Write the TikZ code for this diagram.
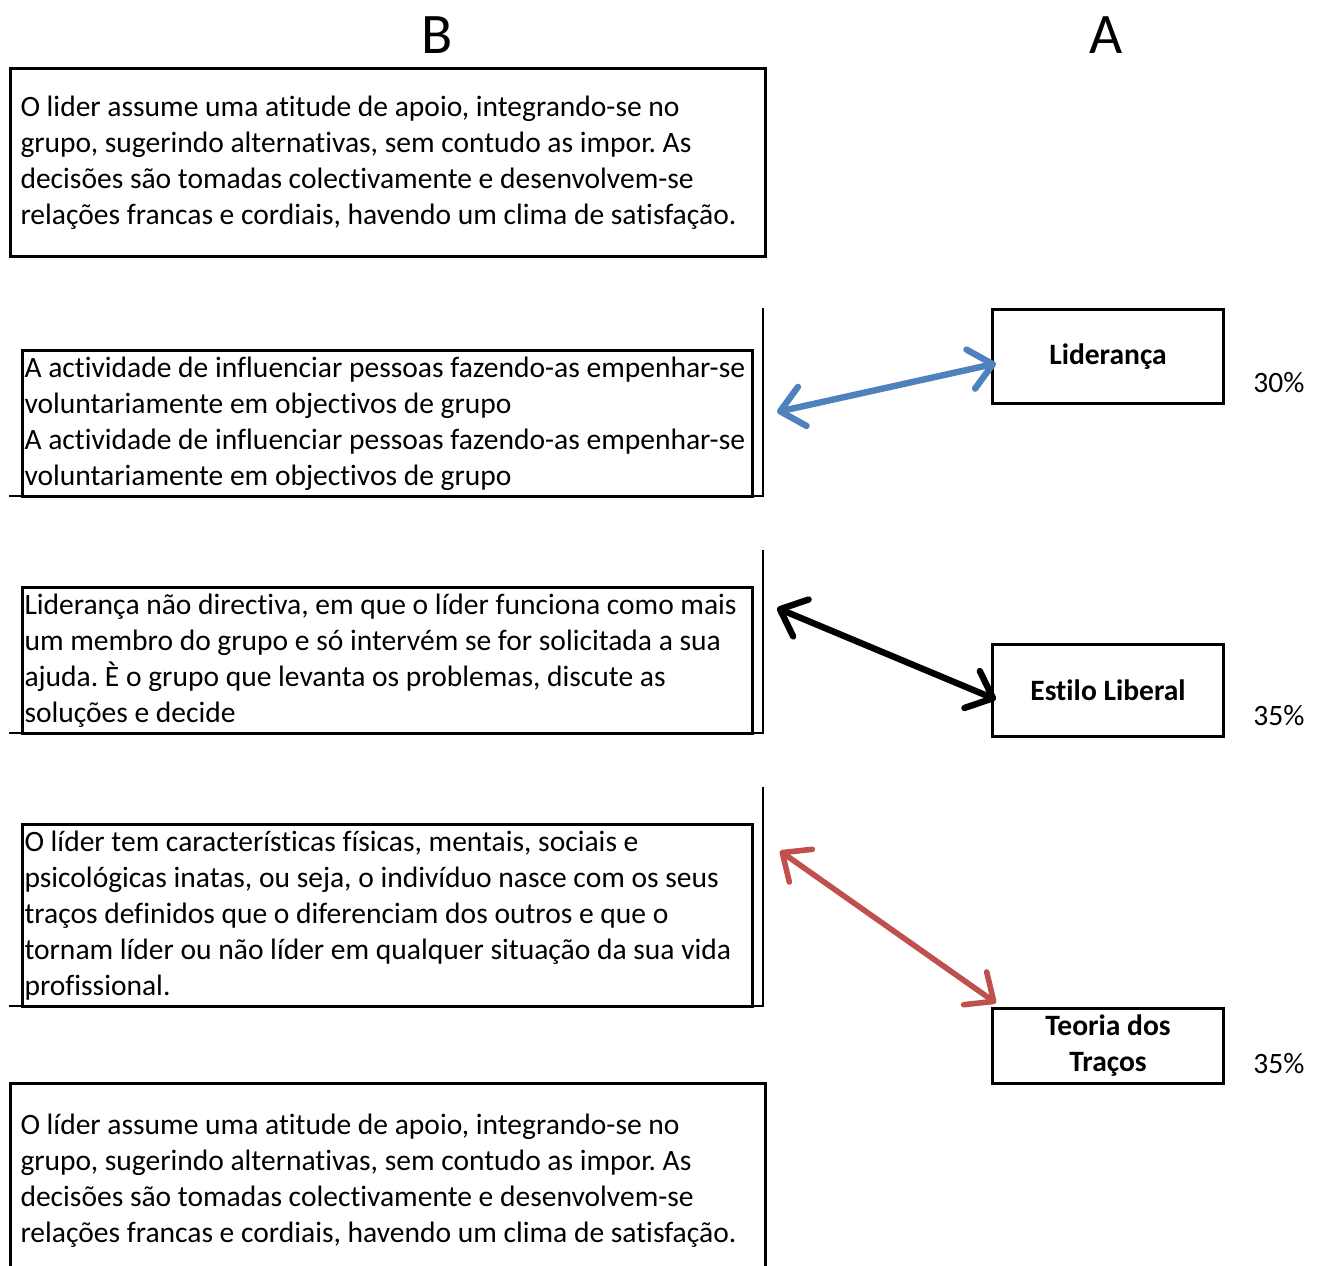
\documentclass[tikz,border=0pt]{standalone}
\usepackage{fontspec}
\setmainfont{Carlito}[Ligatures={NoCommon}]
\usetikzlibrary{arrows.meta,positioning,calc}
\definecolor{lkBlue}{HTML}{4F81BD}
\definecolor{lkRed} {HTML}{C0504D}
\frenchspacing
\tikzset{
  bodytxt/.style={font=\fontsize{22.15}{27}\selectfont, align=flush left},
  outerbox/.style={draw, line width=2.25pt, bodytxt, anchor=north west,
    inner xsep=7.5pt, inner ysep=0pt, text width=551.25pt},
  innerbox/.style={draw, line width=2.25pt, bodytxt, anchor=north west,
    inner xsep=1.5pt, inner ysep=0pt, text width=544.5pt},
  termbox/.style={draw, line width=2.25pt, align=center, anchor=north west,
    font=\fontsize{22.15}{27}\selectfont\bfseries, minimum width=173.25pt, inner ysep=2pt},
  pctlabel/.style={font=\fontsize{22.15}{27}\selectfont},
  colhead/.style={font=\fontsize{43}{50}\selectfont},
  sideline/.style={line width=2.2pt},
  linkarrow/.style={line width=4.8pt,
    {Straight Barb[length=17pt,width=30pt,round]}-{Straight Barb[length=17pt,width=30pt,round]}},
}
\begin{document}
\begin{tikzpicture}[x=0.75pt,y=-0.75pt]
  \useasboundingbox (0,0) rectangle (1322,1266);
  \clip (0,0) rectangle (1322,1266);

  % column heads
  \node[colhead] (headB) at (437,35) {B};
  \node[colhead] (headA) at (1106,35) {A};

  % column B
  \node[outerbox, minimum height=141pt] (defApoio) at (9,67)
    {O lider assume uma atitude de apoio, integrando-se no\\
     grupo, sugerindo alternativas, sem contudo as impor. As\\
     decisões são tomadas colectivamente e desenvolvem-se\\
     relações francas e cordiais, havendo um clima de satisfação.};

  \draw[sideline] (763,308) |- (9,496);
  \node[innerbox, minimum height=109.5pt] (defInfl) at (21,349)
    {A actividade de influenciar pessoas fazendo-as empenhar-se\\
     voluntariamente em objectivos de grupo\\
     A actividade de influenciar pessoas fazendo-as empenhar-se\\
     voluntariamente em objectivos de grupo};

  \draw[sideline] (763,550) |- (9,733);
  \node[innerbox, minimum height=109.5pt] (defLib) at (21,586)
    {Liderança não directiva, em que o líder funciona como mais\\
     um membro do grupo e só intervém se for solicitada a sua\\
     ajuda. È o grupo que levanta os problemas, discute as\\
     soluções e decide};

  \draw[sideline] (763,787) |- (9,1006);
  \node[innerbox, minimum height=136.5pt] (defTrac) at (21,823)
    {O líder tem características físicas, mentais, sociais e\\
     psicológicas inatas, ou seja, o indivíduo nasce com os seus\\
     traços definidos que o diferenciam dos outros e que o\\
     tornam líder ou não líder em qualquer situação da sua vida\\
     profissional.};

  \node[outerbox, minimum height=145.5pt] (defApoio2) at (9,1082)
    {O líder assume uma atitude de apoio, integrando-se no\\
     grupo, sugerindo alternativas, sem contudo as impor. As\\
     decisões são tomadas colectivamente e desenvolvem-se\\
     relações francas e cordiais, havendo um clima de satisfação.};

  % column A
  \node[termbox, minimum height=70.5pt] (lid) at (991,308) {Liderança};
  \node[termbox, minimum height=69pt] (est) at (991,643) {Estilo Liberal};
  \node[termbox, minimum height=56.25pt] (teo) at (991,1007) {Teoria dos\\Traços};

  \node[pctlabel] (pctLid) at (1279,383) {30\%};
  \node[pctlabel] (pctEst) at (1279,716) {35\%};
  \node[pctlabel] (pctTeo) at (1279,1064) {35\%};

  % links
  \coordinate (lidEnd) at (777,412);
  \coordinate (estEnd) at (777,608);
  \coordinate (teoEnd) at (780,851);
  \draw[linkarrow, lkBlue] (lidEnd) -- ([shift={(5,7)}]lid.west);
  \draw[linkarrow, black] (estEnd) -- ([shift={(5,9)}]est.west);
  \draw[linkarrow, lkRed, line width=4.2pt] (teoEnd) -- ([shift={(5,-4)}]teo.north west);
\end{tikzpicture}
\end{document}
